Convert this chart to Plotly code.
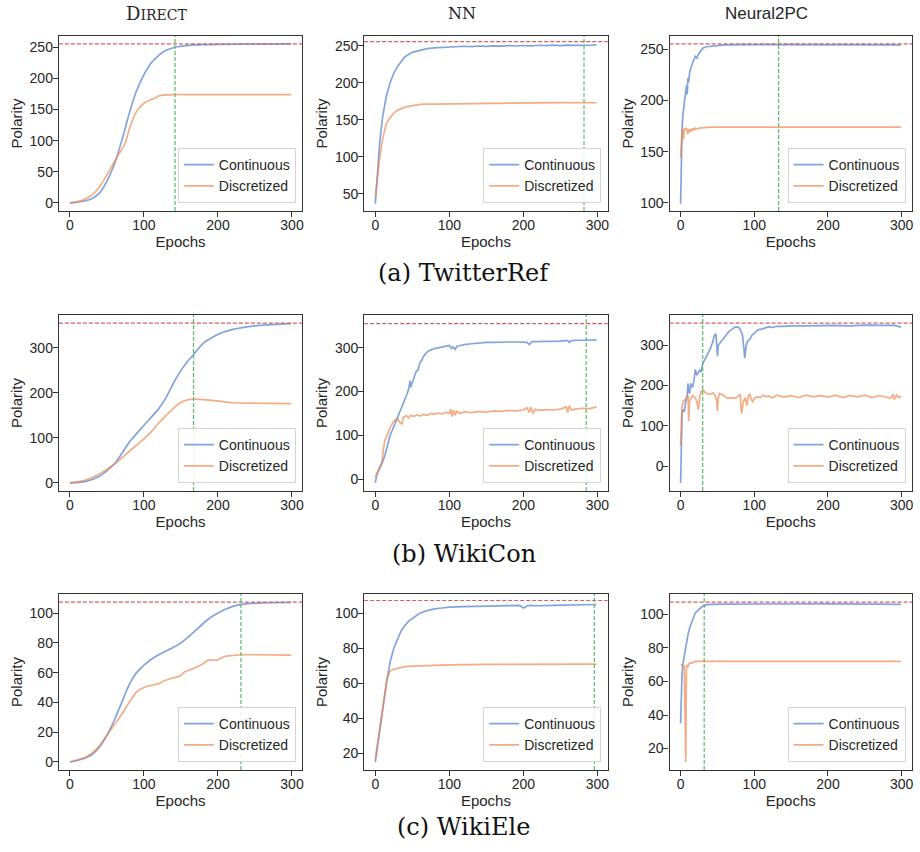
import plotly.graph_objects as go

# ---------------- data ----------------
# Row (a) TwitterRef
dir_tw_cont = [(0,0),(10,1),(20,3),(30,7),(40,16),(50,35),(60,62),(70,100),(80,143),(90,180),(100,206),
               (110,225),(120,237),(130,245),(142,250),(160,253),(180,254),(200,254.5),(250,255),(299,255.2)]
dir_tw_disc = [(0,0),(10,2),(20,6),(30,13),(40,26),(50,45),(60,66),(70,86),(75,97),(80,118),(90,147),(100,160),
               (110,166),(115,168),(120,172),(130,173.5),(140,174),(160,174),(200,174),(299,174)]
nn_tw_cont = [(0,37),(3,80),(6,120),(10,155),(15,182),(20,200),(25,213),(30,222),(40,235),(50,241),(60,244),
              (70,246),(80,247),(90,247.5),(100,248.5),(110,248),(120,249.2),(130,248.6),(140,249.5),(150,249),
              (160,249.8),(170,249.3),(180,250),(190,249.5),(200,250.2),(210,249.8),(220,250.5),(230,250),
              (240,250.6),(250,250.1),(260,250.8),(270,250.3),(280,250.9),(290,250.5),(299,251)]
nn_tw_disc = [(0,45),(3,75),(6,100),(10,125),(15,145),(20,153),(25,159),(30,163),(40,167),(50,169),(65,171),
              (80,171.2),(100,171.5),(150,172.5),(200,173),(250,173.2),(299,173)]
n2_tw_cont = [(0,99),(1,145),(2,172),(3,185),(4,192),(5,198),(6,203),(7,208),(8,215),(9,206),(10,222),(11,218),
              (12,226),(14,232),(16,237),(18,240),(20,243),(22,241),(24,245),(26,247),(28,249),(30,251),
              (35,252.5),(40,253),(50,254),(60,254.3),(100,254.5),(150,254.5),(200,254.5),(250,254.5),(299,254.3)]
n2_tw_disc = [(0,144),(1,160),(2,170),(3,172),(4,162),(5,171),(6,173),(7,172),(8,173),(9,170),(10,167),(11,172),
              (12,171),(13,169),(14,172),(15,170),(16,173),(17,171),(18,172),(19,171),(20,173),(22,172),(25,173),
              (30,173.5),(40,174),(60,174),(100,174),(200,174),(299,174)]

# Row (b) WikiCon
dir_wc_cont = [(0,0),(20,3),(40,15),(60,42),(80,90),(100,128),(120,165),(130,190),(140,222),(150,250),(160,272),
               (167,285),(180,310),(200,330),(220,341),(250,349),(299,354)]
dir_wc_disc = [(0,0),(20,6),(40,20),(60,42),(80,70),(100,98),(110,114),(120,133),(130,150),(140,166),(150,179),
               (160,185),(167,186),(180,185),(200,182),(220,178),(250,177),(299,176)]
nn_wc_cont = [(0,-8),(2,10),(5,22),(8,32),(10,40),(13,55),(15,70),(18,88),(20,100),(25,120),(30,140),(35,160),
              (40,180),(43,195),(45,205),(47,225),(48,210),(50,220),(52,235),(55,245),(58,250),(60,265),(63,272),
              (65,280),(70,290),(75,295),(80,298),(85,300),(90,302),(95,303),(100,305),(103,298),(105,302),
              (108,296),(110,303),(115,305),(120,307),(130,309),(140,311),(150,312),(160,312),(170,313),(180,313),
              (190,313),(200,313),(205,312),(208,307),(210,312),(212,314),(215,314),(220,314),(230,315),(240,315),
              (250,315),(255,316),(260,316),(262,312),(265,316),(268,316),(270,317),(280,317),(290,317),(299,318)]
nn_wc_disc = [(0,5),(3,18),(6,28),(9,40),(11,70),(13,90),(16,100),(20,118),(24,130),(27,136),(30,138),(33,130),
              (36,126),(38,142),(42,145),(45,140),(48,146),(52,143),(56,147),(60,144),(65,148),(70,146),(75,150),
              (80,148),(85,151),(90,149),(95,153),(100,150),(102,160),(104,143),(106,158),(108,146),(110,155),
              (115,150),(120,154),(130,152),(140,155),(150,153),(160,156),(170,155),(180,157),(190,156),(200,158),
              (205,163),(208,152),(210,165),(213,150),(216,160),(220,157),(230,159),(240,158),(250,160),(258,165),
              (260,152),(262,168),(265,158),(270,160),(280,162),(290,161),(299,165)]
n2_wc_cont = [(0,-42),(1,50),(2,130),(3,140),(5,135),(7,160),(9,175),(10,205),(11,185),(12,180),(14,205),(16,195),
              (18,210),(20,240),(22,225),(24,232),(26,238),(28,233),(30,255),(33,265),(36,275),(40,290),(43,305),
              (46,325),(48,328),(49,295),(50,273),(51,300),(53,305),(56,310),(60,320),(63,330),(66,335),(70,340),
              (74,345),(78,345),(80,342),(82,335),(84,325),(86,290),(87,268),(89,300),(91,310),(94,315),(97,325),
              (100,330),(105,338),(110,340),(115,343),(120,346),(125,344),(130,347),(140,347),(150,348),(170,348),
              (190,349),(210,349),(230,348),(250,350),(270,349),(290,349),(299,345)]
n2_wc_disc = [(0,50),(1,120),(2,150),(4,160),(6,165),(8,168),(10,175),(11,112),(12,160),(14,168),(16,175),(18,172),
              (20,170),(22,160),(24,140),(26,172),(28,185),(30,190),(33,183),(36,180),(40,178),(44,182),(47,175),
              (49,160),(50,137),(51,170),(53,180),(56,178),(60,172),(64,168),(68,170),(72,168),(76,170),(79,175),
              (81,178),(82,140),(83,130),(85,160),(88,170),(90,150),(92,175),(94,178),(96,165),(98,160),(100,168),
              (104,172),(108,170),(112,176),(116,172),(120,174),(125,169),(130,176),(140,171),(150,175),(160,170),
              (170,176),(180,172),(190,175),(200,171),(210,176),(220,170),(230,175),(240,172),(250,176),(260,170),
              (270,175),(280,171),(285,168),(288,178),(290,165),(293,176),(296,170),(299,174)]

# Row (c) WikiEle
dir_we_cont = [(0,0),(10,1),(20,2.5),(30,5),(40,10),(50,18),(60,28),(70,40),(80,52),(90,60),(100,65),(110,69),
               (120,72),(130,74.5),(140,77),(150,80),(160,84),(170,88.5),(180,93),(190,97),(200,100),(210,102.5),
               (220,104.5),(230,105.7),(240,106.3),(260,106.8),(280,107),(299,107.1)]
dir_we_disc = [(0,0),(10,1.5),(20,3),(30,6),(40,11),(50,18),(60,25),(70,32),(80,40),(90,47),(100,50),(110,51.5),
               (120,52.5),(125,54),(130,55),(140,56.5),(150,58),(155,60.5),(160,61.5),(170,63.5),(180,66),(185,68),
               (190,68.5),(200,68.5),(205,70),(210,71),(220,71.5),(230,72),(250,72),(299,71.8)]
nn_we_cont = [(0,15),(3,25),(6,35),(10,45),(15,60),(20,72),(25,80),(30,85),(35,90),(40,93),(45,95.5),(50,97),
              (60,100),(70,101.5),(80,102.5),(90,103),(100,103.5),(120,103.8),(140,104),(160,104.2),(180,104.2),
              (195,104.5),(200,103),(203,103.5),(206,104.5),(220,104.3),(240,104.5),(260,104.6),(280,104.8),(299,105)]
nn_we_disc = [(0,17),(3,26),(6,36),(10,47),(13,57),(16,63),(20,67),(25,68),(30,68.5),(40,69.5),(50,69.8),(60,70),
              (80,70.3),(100,70.5),(150,70.8),(200,71),(250,71),(299,71)]
n2_we_cont = [(0,35),(1,55),(2,65),(3,70),(5,75),(7,82),(10,88),(13,93),(16,97),(20,101),(25,103),(30,105),
              (35,105.7),(40,106),(60,106.2),(100,106.3),(200,106.3),(270,106.2),(280,106),(299,106)]
n2_we_disc = [(0,70),(2,70),(4,69.5),(5,69),(6,40),(7,12),(8,70),(10,69),(12,71),(15,71),(20,72),(30,72),(60,72),
              (150,72),(299,72)]

# reference lines
optimum = [255.4, 355, 107.3]              # red dashed, per dataset row
best_epoch = [[142, 282, 133], [167, 285, 30], [231, 296, 32]]   # green dashed, per panel

method_titles = ["D<span style='font-size:14px'>IRECT</span>", "NN", "Neural2PC"]
dataset_captions = ["(a) TwitterRef", "(b) WikiCon", "(c) WikiEle"]
series_names = ["Continuous", "Discretized"]
x_ticks = [0, 100, 200, 300]

panels = [
    [(dir_tw_cont, dir_tw_disc), (nn_tw_cont, nn_tw_disc), (n2_tw_cont, n2_tw_disc)],
    [(dir_wc_cont, dir_wc_disc), (nn_wc_cont, nn_wc_disc), (n2_wc_cont, n2_wc_disc)],
    [(dir_we_cont, dir_we_disc), (nn_we_cont, nn_we_disc), (n2_we_cont, n2_we_disc)],
]
y_ranges = [[[-13, 268], [27, 263], [92, 263]],
            [[-18, 373], [-26.6, 374.5], [-62, 375]],
            [[-5.4, 112.8], [10.5, 111], [7.2, 112.2]]]
y_ticks = [[[0, 50, 100, 150, 200, 250], [50, 100, 150, 200, 250], [100, 150, 200, 250]],
           [[0, 100, 200, 300]] * 3,
           [[0, 20, 40, 60, 80, 100], [20, 40, 60, 80, 100], [20, 40, 60, 80, 100]]]

# ---------------- layout geometry ----------------
W, H = 920, 852
col_px = [(59, 303), (365, 609), (671, 914)]
row_px = [(36, 211), (315, 491), (594, 770)]
title_cx = [157, 463, 768]
caption_cy = [273, 554, 827]

BLUE = "rgba(72,120,208,0.68)"
ORANGE = "rgba(238,133,74,0.68)"
RED = "#d65f5f"
GREEN = "#5cb867"
AX = "#333333"
TXT = "#262626"
SANS = "Liberation Sans, Arial, sans-serif"
SERIF = "DejaVu Serif, serif"

fig = go.Figure()
layout = dict(width=W, height=H, margin=dict(l=0, r=0, t=0, b=0),
              plot_bgcolor="white", paper_bgcolor="white", showlegend=True,
              font=dict(family=SANS, color=TXT))
shapes, annotations = [], []

for r in range(3):
    for c in range(3):
        i = r * 3 + c + 1
        xs = "" if i == 1 else str(i)
        xa, ya = "x" + xs, "y" + xs
        lg = "legend" if i == 1 else f"legend{i}"
        smooth = (c == 0)
        for k, ser in enumerate(panels[r][c]):
            fig.add_trace(go.Scatter(
                x=[p[0] for p in ser], y=[p[1] for p in ser], mode="lines",
                name=series_names[k], xaxis=xa, yaxis=ya, legend=lg,
                line=dict(color=BLUE if k == 0 else ORANGE, width=1.7,
                          shape="spline" if smooth else "linear", smoothing=0.6)))
        x0, x1 = col_px[c]
        t0, t1 = row_px[r]
        axis_common = dict(showline=True, mirror=True, linecolor=AX, linewidth=1.25,
                           ticks="outside", ticklen=5, tickwidth=1.2, tickcolor=AX,
                           showgrid=False, zeroline=False,
                           tickfont=dict(family=SANS, size=14, color=TXT))
        layout["xaxis" + xs] = dict(axis_common, domain=[x0 / W, x1 / W], anchor=ya,
                                    range=[-15, 314], tickvals=x_ticks, ticklabelstandoff=-4,
                                    title=dict(text="Epochs", standoff=1,
                                               font=dict(family=SANS, size=15, color=TXT)))
        layout["yaxis" + xs] = dict(axis_common, domain=[1 - t1 / H, 1 - t0 / H], anchor=xa,
                                    range=y_ranges[r][c], tickvals=y_ticks[r][c], ticklabelstandoff=-3,
                                    title=dict(text="Polarity", standoff=3,
                                               font=dict(family=SANS, size=15, color=TXT)))
        layout[lg] = dict(x=(x1 - 6.5) / W, y=1 - (t1 - 8) / H, xanchor="right", yanchor="bottom",
                          bgcolor="rgba(255,255,255,0.85)", bordercolor="#d4d4d4", borderwidth=1,
                          font=dict(family=SANS, size=14, color=TXT), itemwidth=30,
                          tracegroupgap=0)
        shapes.append(dict(type="line", xref=xa + " domain", yref=ya, x0=0, x1=1,
                           y0=optimum[r], y1=optimum[r], line=dict(color=RED, width=1.2, dash="4px,2px")))
        shapes.append(dict(type="line", xref=xa, yref=ya + " domain", x0=best_epoch[r][c], x1=best_epoch[r][c],
                           y0=0, y1=1, line=dict(color=GREEN, width=1.2, dash="4px,2px")))

for c in range(3):
    annotations.append(dict(text=method_titles[c], x=title_cx[c] / W, y=1 - 13 / H, xref="paper", yref="paper",
                            showarrow=False, xanchor="center", yanchor="middle",
                            font=dict(family=SERIF if c < 2 else SANS, size=18 if c == 0 else (16 if c == 1 else 17),
                                      color=TXT)))
for r in range(3):
    annotations.append(dict(text=dataset_captions[r], x=465 / W, y=1 - caption_cy[r] / H, xref="paper",
                            yref="paper", showarrow=False, xanchor="center", yanchor="middle",
                            font=dict(family=SERIF, size=24, color="#111111")))

layout["shapes"] = shapes
layout["annotations"] = annotations
fig.update_layout(**layout)
fig.write_html("out.html", config={"displayModeBar": False},
               post_script="document.body.style.margin='0';document.body.style.overflow='hidden';")
